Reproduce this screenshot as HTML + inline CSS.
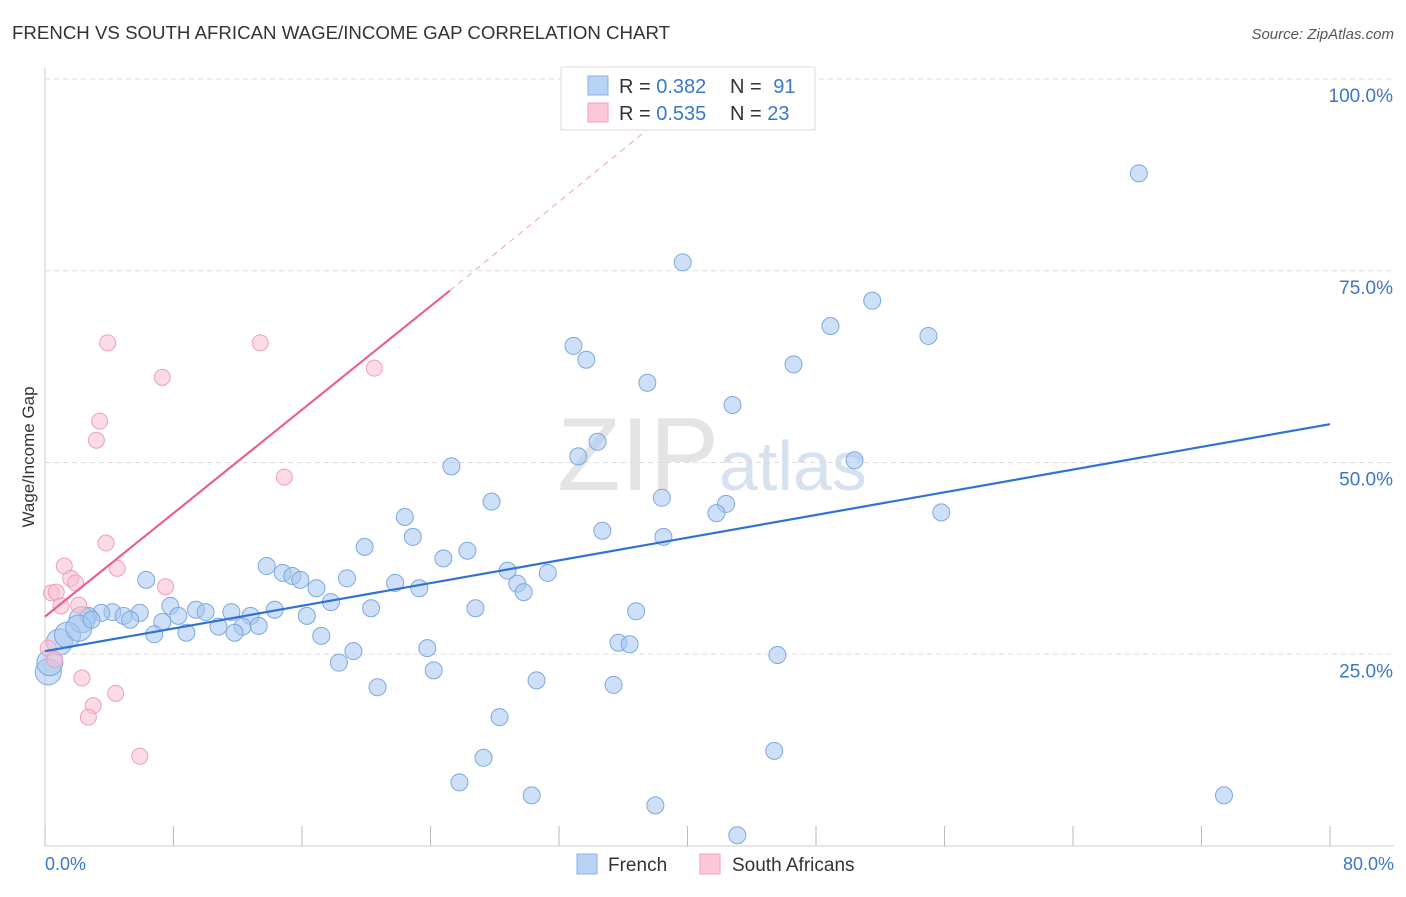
<!DOCTYPE html>
<html><head><meta charset="utf-8">
<style>
body{margin:0;background:#fff;font-family:"Liberation Sans",sans-serif;}
svg text{font-family:"Liberation Sans",sans-serif;}
</style></head>
<body>
<svg id="chart" width="1406" height="892">
<text x="12" y="39" font-size="18" fill="#333" textLength="658" lengthAdjust="spacingAndGlyphs">FRENCH VS SOUTH AFRICAN WAGE/INCOME GAP CORRELATION CHART</text>
<text x="1394" y="39" font-size="15" fill="#555" text-anchor="end" font-style="italic">Source: ZipAtlas.com</text>
<text x="712" y="490" font-size="104" fill="#e4e4e4" text-anchor="middle" font-family="Liberation Serif">ZIP<tspan fill="#d6e2f0" font-family="Liberation Sans" font-size="70">atlas</tspan></text>
<g id="grid"></g>
<g id="marks"></g>
<text transform="translate(34,457) rotate(-90)" font-size="17" fill="#333" text-anchor="middle">Wage/Income Gap</text>
<text x="45" y="870" font-size="18" fill="#3a78c9">0.0%</text>
<text x="1394" y="870" font-size="18" fill="#3a78c9" text-anchor="end">80.0%</text>
<g>
<rect x="561" y="67" width="254" height="63" fill="#fff" stroke="#ddd"/>
<rect x="588" y="76" width="20" height="19" fill="#b9d3f5" stroke="#8ab0e6"/>
<rect x="588" y="103" width="20" height="19" fill="#fcc8d8" stroke="#f0a0b8"/>
<text x="619" y="93" font-size="20" fill="#333">R = <tspan fill="#3a78c9">0.382</tspan></text>
<text x="730" y="93" font-size="20" fill="#333">N = <tspan fill="#3a78c9" dx="6">91</tspan></text>
<text x="619" y="120" font-size="20" fill="#333">R = <tspan fill="#3a78c9">0.535</tspan></text>
<text x="730" y="120" font-size="20" fill="#333">N = <tspan fill="#3a78c9">23</tspan></text>
</g>
<g>
<rect x="577" y="854" width="20" height="20" fill="#b9d3f5" stroke="#8ab0e6"/>
<text x="608" y="871" font-size="19" fill="#333">French</text>
<rect x="700" y="854" width="20" height="20" fill="#fcc8d8" stroke="#f0a0b8"/>
<text x="732" y="871" font-size="19" fill="#333">South Africans</text>
</g>
</svg>
<script>
const yTicks=[25,50,75,100];
const yTickLabels=["25.0%","50.0%","75.0%","100.0%"];
const xTicks=[0,8,16,24,32,40,48,56,64,72,80];
const frenchX=[68.1,39.7,51.5,48.9,55.0,32.9,33.7,46.6,37.5,42.8,34.4,25.3,33.2,50.4,38.4,42.4,27.8,41.8,55.8,22.4,34.7,22.9,38.5,19.9,26.3,24.8,13.8,28.8,31.3,14.8,15.4,15.9,6.3,29.4,18.8,21.8,16.9,23.3,29.8,17.8,7.8,26.8,20.3,36.8,9.4,10.0,11.6,14.3,4.2,5.9,3.5,2.7,4.9,8.3,12.8,16.3,5.3,2.3,7.3,10.8,12.3,13.3,6.8,8.8,11.8,17.2,23.8,19.2,35.7,36.4,45.6,18.3,24.2,30.6,20.7,35.4,28.3,27.3,25.8,30.3,38.0,73.4,43.1,45.4,0.2,0.3,0.9,1.4,2.1,2.9];
const frenchY=[87.7,76.1,71.1,67.8,66.5,65.2,63.4,62.8,60.4,57.5,52.7,49.5,50.8,50.3,45.4,44.6,44.9,43.4,43.5,42.9,41.1,40.3,40.3,39.0,38.5,37.5,36.5,35.9,35.6,35.6,35.2,34.7,34.7,34.2,34.9,34.3,33.6,33.6,33.1,31.8,31.3,31.0,31.0,30.6,30.8,30.5,30.5,30.8,30.5,30.4,30.4,30.0,30.0,30.0,30.0,30.0,29.5,29.5,29.2,28.6,28.6,28.7,27.6,27.8,27.8,27.4,25.8,25.4,26.5,26.3,24.9,23.9,22.9,21.6,20.7,21.0,16.8,11.5,8.3,6.6,5.3,6.6,1.4,12.4,22.7,23.9,26.6,27.5,28.4,29.5];
const saX=[3.9,13.4,7.3,20.5,3.4,3.2,14.9,3.8,1.2,4.5,1.6,1.9,7.5,0.4,0.7,1.0,2.1,0.2,0.6,2.3,4.4,3.0,2.7,5.9];
const saY=[65.6,65.6,61.1,62.3,55.4,52.9,48.1,39.5,36.5,36.2,34.9,34.3,33.8,33.0,33.1,31.3,31.4,25.8,24.3,21.9,19.9,18.3,16.8,11.7];
const frenchTrend=[25.4,55.0];
const saTrend=[29.9,72.4,93.4];
const saTrendX=[0,25.2,37.5];

const NS="http://www.w3.org/2000/svg";
const X=v=>45+v*(1285/80);
const Y=v=>846-v*7.67;
const grid=document.getElementById('grid'),marks=document.getElementById('marks');
function mk(tag,attrs,parent){const e=document.createElementNS(NS,tag);for(const k in attrs)e.setAttribute(k,attrs[k]);parent.appendChild(e);return e;}
yTicks.forEach((t,i)=>{
  const l=mk('line',{x1:45,x2:1394,y1:Y(t),y2:Y(t),stroke:'#ddd','stroke-dasharray':'5,4'},grid);
  
  
  const tx=mk('text',{x:1393,y:Y(t)+23,'font-size':19,fill:'#3a78c9','text-anchor':'end'},grid);
  tx.textContent=yTickLabels[i];
  
  
});
const ax=mk('line',{x1:45,x2:1394,y1:846,y2:846,stroke:'#ccc'},grid);


const ay=mk('line',{x1:45,x2:45,y1:68,y2:846,stroke:'#ccc'},grid);


xTicks.forEach(t=>{
  const l=mk('line',{x1:X(t),x2:X(t),y1:826,y2:846,stroke:'#bbb'},grid);
  
  
});
frenchX.forEach((v,i)=>{
  const c=mk('circle',{cx:X(v),cy:Y(frenchY[i]),r:v<2.5?13:8.5,fill:'rgba(165,199,240,0.55)',stroke:'#7ea8dd','stroke-width':1},marks);
  
  
});
saX.forEach((v,i)=>{
  const c=mk('circle',{cx:X(v),cy:Y(saY[i]),r:8,fill:'rgba(250,190,210,0.55)',stroke:'#eea0b8','stroke-width':1},marks);
  
  
});
const bl=mk('line',{x1:X(0),y1:Y(frenchTrend[0]),x2:X(80),y2:Y(frenchTrend[1]),stroke:'#2f72d6','stroke-width':2.2},marks);


const pl=mk('line',{x1:X(saTrendX[0]),y1:Y(saTrend[0]),x2:X(saTrendX[1]),y2:Y(saTrend[1]),stroke:'#e8628c','stroke-width':2.2},marks);


const pd=mk('line',{x1:X(saTrendX[1]),y1:Y(saTrend[1]),x2:X(saTrendX[2]),y2:Y(saTrend[2]),stroke:'#f0a0b8','stroke-width':1,'stroke-dasharray':'6,5'},marks);


</script>
</body></html>
